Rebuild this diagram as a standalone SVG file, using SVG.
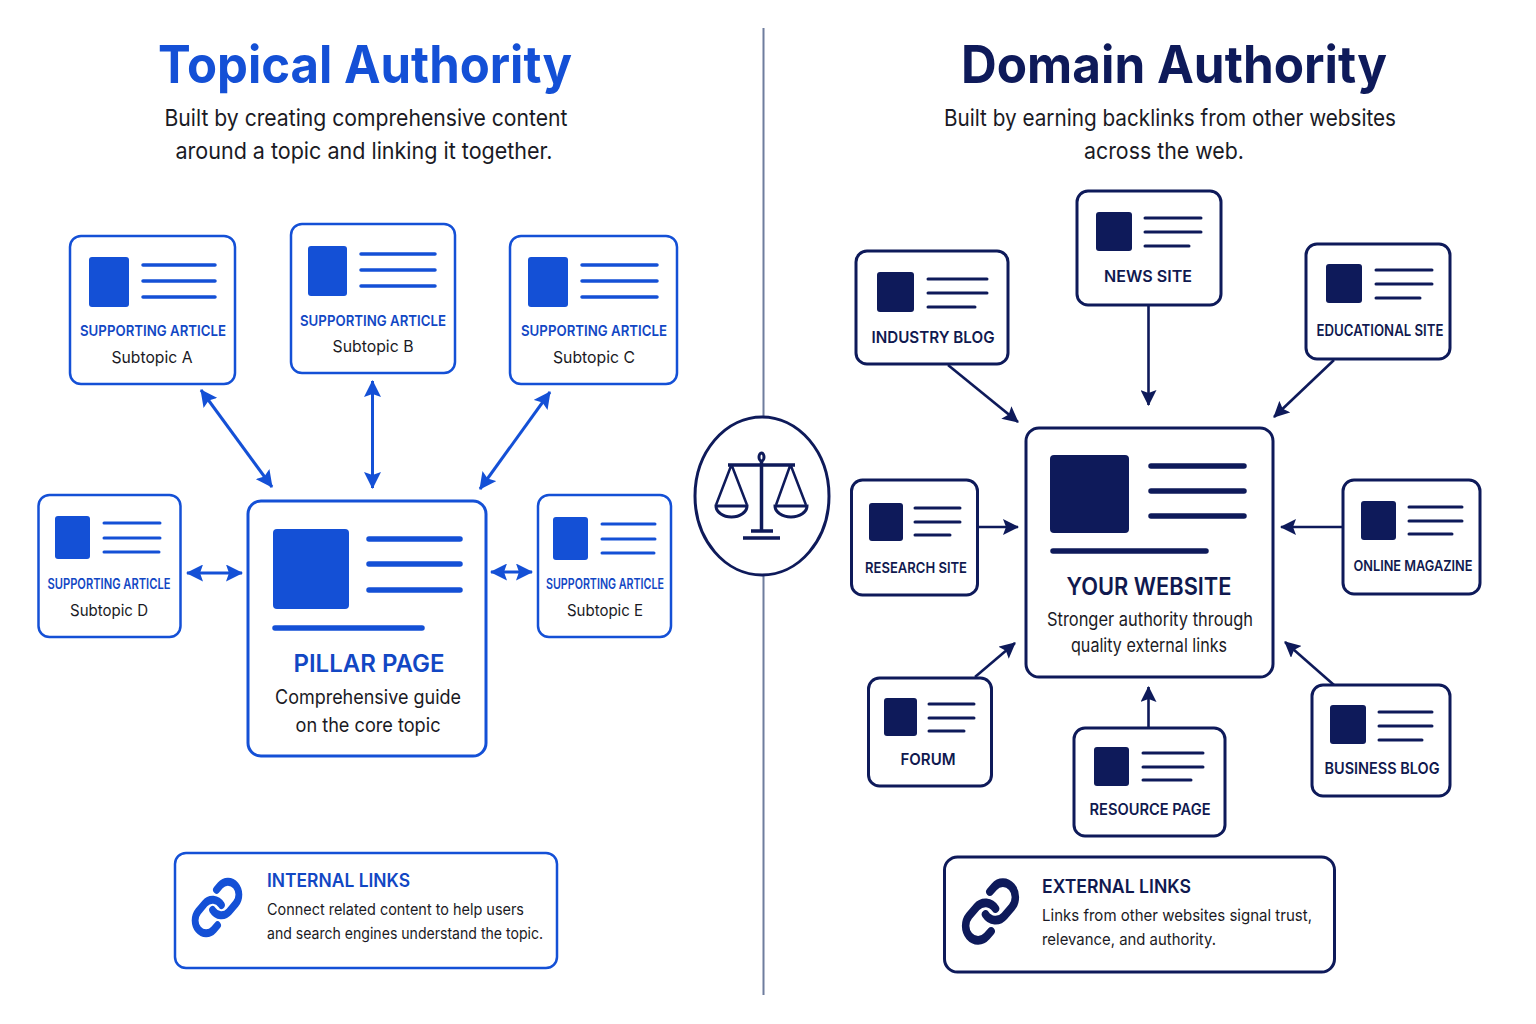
<svg xmlns="http://www.w3.org/2000/svg" width="1536" height="1024" viewBox="0 0 1536 1024">
<style>
text{font-family:Inter,"Noto Sans","Liberation Sans",sans-serif;text-anchor:middle}
.card{fill:#fff;stroke-width:2.5}
.b .card{stroke:#1450d6}.n .card{stroke:#0e1a5a;stroke-width:3}
.b .fill{fill:#1450d6}.n .fill{fill:#0e1a5a}
.b .ln{stroke:#1450d6}.n .ln{stroke:#0e1a5a}
.ln{stroke-width:3.5;stroke-linecap:round;fill:none}
.lab{font-weight:600;font-size:15px}
.b .lab{fill:#1247c4}.n .lab{fill:#10194f}
.sub{font-size:16.5px;fill:#1a1a24}
.t{font-weight:700;font-size:52px}
.desc{font-size:23px;fill:#1a1a24}
.ab{stroke:#1450d6;stroke-width:3;fill:none}
.an{stroke:#0e1a5a;stroke-width:2.6;fill:none}
.ic{fill:none;stroke-linecap:round;stroke-linejoin:round}
</style>
<defs>
<marker id="mb" viewBox="0 0 17 17" refX="16" refY="8.500" markerWidth="17" markerHeight="17" markerUnits="userSpaceOnUse" orient="auto-start-reverse"><path d="M0 0L17 8.500L0 17L3 8.500Z" fill="#1450d6"/></marker>
<marker id="mn" viewBox="0 0 16 16" refX="15" refY="8" markerWidth="16" markerHeight="16" markerUnits="userSpaceOnUse" orient="auto"><path d="M0 0L16 8L0 16L3 8Z" fill="#0e1a5a"/></marker>
<path id="link" d="M10 13a5 5 0 0 0 7.54.54l3-3a5 5 0 0 0-7.07-7.07l-1.72 1.71M14 11a5 5 0 0 0-7.54-.54l-3 3a5 5 0 0 0 7.07 7.07l1.71-1.71"/>
</defs>
<rect width="1536" height="1024" fill="#fff"/>
<line id="divider" x1="763.500" y1="28" x2="763.500" y2="995" stroke="#6f7d9e" stroke-width="2"/>
<g id="title-left"><text class="t" x="365" y="83" fill="#1450d6" textLength="414" lengthAdjust="spacingAndGlyphs">Topical Authority</text>
<text class="desc" x="366" y="126" textLength="403" lengthAdjust="spacingAndGlyphs">Built by creating comprehensive content</text>
<text class="desc" x="364" y="159" textLength="377" lengthAdjust="spacingAndGlyphs">around a topic and linking it together.</text></g>
<g id="title-right"><text class="t" x="1174" y="83" fill="#0e1a5a" textLength="426" lengthAdjust="spacingAndGlyphs">Domain Authority</text>
<text class="desc" x="1170" y="126" textLength="452" lengthAdjust="spacingAndGlyphs">Built by earning backlinks from other websites</text>
<text class="desc" x="1164" y="159" textLength="160" lengthAdjust="spacingAndGlyphs">across the web.</text></g>

<g id="connectors">
<g class="ab">
<line x1="201" y1="390" x2="272" y2="487" marker-start="url(#mb)" marker-end="url(#mb)"/>
<line x1="372.500" y1="381" x2="372.500" y2="488" marker-start="url(#mb)" marker-end="url(#mb)"/>
<line x1="550" y1="392" x2="480" y2="489" marker-start="url(#mb)" marker-end="url(#mb)"/>
<line x1="187" y1="573" x2="242" y2="573" marker-start="url(#mb)" marker-end="url(#mb)"/>
<line x1="491" y1="572" x2="532" y2="572" marker-start="url(#mb)" marker-end="url(#mb)"/>
</g>
<g class="an">
<line x1="948" y1="365" x2="1018" y2="422" marker-end="url(#mn)"/>
<line x1="1148.500" y1="306" x2="1148.500" y2="405" marker-end="url(#mn)"/>
<line x1="1334" y1="360" x2="1274" y2="417" marker-end="url(#mn)"/>
<line x1="978" y1="527" x2="1018" y2="527" marker-end="url(#mn)"/>
<line x1="1343" y1="527" x2="1281" y2="527" marker-end="url(#mn)"/>
<line x1="975" y1="677" x2="1015" y2="643" marker-end="url(#mn)"/>
<line x1="1148.500" y1="727" x2="1148.500" y2="687" marker-end="url(#mn)"/>
<line x1="1334" y1="685" x2="1285" y2="642" marker-end="url(#mn)"/>
</g>
</g>

<g class="b">
<g id="article-a"><rect class="card" x="70" y="236" width="165" height="148" rx="11"/><rect class="fill" x="89" y="257" width="40" height="50" rx="3"/><path class="ln" d="M143 265H215M143 281H215M143 297H215"/><text class="lab" x="153" y="336" textLength="146" lengthAdjust="spacingAndGlyphs">SUPPORTING ARTICLE</text><text class="sub" x="152" y="363" textLength="81" lengthAdjust="spacingAndGlyphs">Subtopic A</text></g>
<g id="article-b"><rect class="card" x="291" y="224" width="164" height="149" rx="11"/><rect class="fill" x="308" y="246" width="39" height="50" rx="3"/><path class="ln" d="M361 254H435M361 270H435M361 286H435"/><text class="lab" x="373" y="326" textLength="146" lengthAdjust="spacingAndGlyphs">SUPPORTING ARTICLE</text><text class="sub" x="373" y="352" textLength="81" lengthAdjust="spacingAndGlyphs">Subtopic B</text></g>
<g id="article-c"><rect class="card" x="510" y="236" width="167" height="148" rx="11"/><rect class="fill" x="528" y="257" width="40" height="50" rx="3"/><path class="ln" d="M582 265H657M582 281H657M582 297H657"/><text class="lab" x="594" y="336" textLength="146" lengthAdjust="spacingAndGlyphs">SUPPORTING ARTICLE</text><text class="sub" x="594" y="363" textLength="82" lengthAdjust="spacingAndGlyphs">Subtopic C</text></g>
<g id="article-d"><rect class="card" x="38.500" y="495" width="142" height="142" rx="11"/><rect class="fill" x="55" y="516" width="35" height="43" rx="3"/><path class="ln" d="M104 523H160M104 538H160M104 552H159" style="stroke-width:3"/><text class="lab" x="109" y="589" style="font-size:14px" textLength="123" lengthAdjust="spacingAndGlyphs">SUPPORTING ARTICLE</text><text class="sub" x="109" y="616" style="font-size:15.500px" textLength="78" lengthAdjust="spacingAndGlyphs">Subtopic D</text></g>
<g id="article-e"><rect class="card" x="538" y="495" width="133" height="142" rx="11"/><rect class="fill" x="553" y="517" width="35" height="43" rx="3"/><path class="ln" d="M602 524H655M602 539H655M602 553H654" style="stroke-width:3"/><text class="lab" x="605" y="589" style="font-size:14px" textLength="118" lengthAdjust="spacingAndGlyphs">SUPPORTING ARTICLE</text><text class="sub" x="605" y="616" style="font-size:15.500px" textLength="76" lengthAdjust="spacingAndGlyphs">Subtopic E</text></g>
<g id="pillar-page"><rect class="card" x="248" y="501" width="238" height="255" rx="13" style="stroke-width:3"/><rect class="fill" x="273" y="529" width="76" height="80" rx="4"/><path class="ln" d="M369 539H460M369 564H460M369 590H460M275 628H422" style="stroke-width:5.500"/><text x="369" y="672" style="font-weight:600;font-size:24px;fill:#1247c4" textLength="151" lengthAdjust="spacingAndGlyphs">PILLAR PAGE</text><text class="sub" x="368" y="704" style="font-size:19.500px" textLength="186" lengthAdjust="spacingAndGlyphs">Comprehensive guide</text><text class="sub" x="368" y="732" style="font-size:19.500px" textLength="145" lengthAdjust="spacingAndGlyphs">on the core topic</text></g>
<g id="internal-links"><rect class="card" x="175" y="853" width="382" height="115" rx="11"/><use href="#link" class="ic" stroke="#1450d6" stroke-width="3.100" transform="translate(217 907.500) scale(2.200 2.600) translate(-12 -12)"/><text x="267" y="887" style="text-anchor:start;font-weight:600;font-size:18.500px;fill:#1247c4" textLength="143" lengthAdjust="spacingAndGlyphs">INTERNAL LINKS</text><text class="sub" x="267" y="915" style="text-anchor:start;font-size:15.500px" textLength="257" lengthAdjust="spacingAndGlyphs">Connect related content to help users</text><text class="sub" x="267" y="939" style="text-anchor:start;font-size:15.500px" textLength="276" lengthAdjust="spacingAndGlyphs">and search engines understand the topic.</text></g>
</g>

<g class="n">
<g id="industry-blog"><rect class="card" x="856" y="251" width="152" height="113" rx="11"/><rect class="fill" x="877" y="272" width="37" height="40" rx="3"/><path class="ln" d="M928 279H987M928 293H987M928 307H975" style="stroke-width:3"/><text class="lab" x="933" y="343" style="font-size:16.500px" textLength="123" lengthAdjust="spacingAndGlyphs">INDUSTRY BLOG</text></g>
<g id="news-site"><rect class="card" x="1077" y="191" width="144" height="114" rx="11"/><rect class="fill" x="1096" y="212" width="36" height="39" rx="3"/><path class="ln" d="M1145 218H1201M1145 232H1201M1145 246H1189" style="stroke-width:3"/><text class="lab" x="1148" y="282" style="font-size:16.500px" textLength="88" lengthAdjust="spacingAndGlyphs">NEWS SITE</text></g>
<g id="educational-site"><rect class="card" x="1306" y="244" width="144" height="115" rx="11"/><rect class="fill" x="1326" y="264" width="36" height="39" rx="3"/><path class="ln" d="M1376 270H1432M1376 284H1432M1376 298H1420" style="stroke-width:3"/><text class="lab" x="1380" y="336" style="font-size:15.500px" textLength="127" lengthAdjust="spacingAndGlyphs">EDUCATIONAL SITE</text></g>
<g id="research-site"><rect class="card" x="851.500" y="480" width="126" height="115" rx="11"/><rect class="fill" x="869" y="503" width="34" height="38" rx="3"/><path class="ln" d="M915 508H960M915 522H960M915 535H950" style="stroke-width:3"/><text class="lab" x="916" y="573" style="font-size:15px" textLength="102" lengthAdjust="spacingAndGlyphs">RESEARCH SITE</text></g>
<g id="online-magazine"><rect class="card" x="1343" y="480" width="137" height="114" rx="11"/><rect class="fill" x="1361" y="501" width="35" height="39" rx="3"/><path class="ln" d="M1409 507H1462M1409 521H1462M1409 534H1452" style="stroke-width:3"/><text class="lab" x="1413" y="571" style="font-size:15px" textLength="119" lengthAdjust="spacingAndGlyphs">ONLINE MAGAZINE</text></g>
<g id="forum"><rect class="card" x="868.500" y="678" width="123" height="108" rx="11"/><rect class="fill" x="884" y="698" width="33" height="38" rx="3"/><path class="ln" d="M929 704H974M929 718H974M929 731H964" style="stroke-width:3"/><text class="lab" x="928" y="765" style="font-size:16px" textLength="55" lengthAdjust="spacingAndGlyphs">FORUM</text></g>
<g id="resource-page"><rect class="card" x="1074" y="728" width="151" height="108" rx="11"/><rect class="fill" x="1094" y="747" width="35" height="39" rx="3"/><path class="ln" d="M1143 753H1203M1143 767H1203M1143 780H1191" style="stroke-width:3"/><text class="lab" x="1150" y="815" style="font-size:15.500px" textLength="121" lengthAdjust="spacingAndGlyphs">RESOURCE PAGE</text></g>
<g id="business-blog"><rect class="card" x="1312" y="685" width="138" height="111" rx="11"/><rect class="fill" x="1330" y="705" width="36" height="39" rx="3"/><path class="ln" d="M1379 712H1432M1379 726H1432M1379 740H1422" style="stroke-width:3"/><text class="lab" x="1382" y="774" style="font-size:16px" textLength="115" lengthAdjust="spacingAndGlyphs">BUSINESS BLOG</text></g>
<g id="your-website"><rect class="card" x="1026" y="428" width="247" height="249" rx="13"/><rect class="fill" x="1050" y="455" width="79" height="78" rx="4"/><path class="ln" d="M1151 466H1244M1151 491H1244M1151 516H1244M1053 551H1206" style="stroke-width:5.500"/><text x="1149" y="595" style="font-weight:600;font-size:24px;fill:#10194f" textLength="165" lengthAdjust="spacingAndGlyphs">YOUR WEBSITE</text><text class="sub" x="1150" y="626" style="font-size:18.500px" textLength="206" lengthAdjust="spacingAndGlyphs">Stronger authority through</text><text class="sub" x="1149" y="652" style="font-size:18.500px" textLength="156" lengthAdjust="spacingAndGlyphs">quality external links</text></g>
<g id="external-links"><rect class="card" x="944.500" y="857" width="390" height="115" rx="13"/><use href="#link" class="ic" stroke="#0e1a5a" stroke-width="3" transform="translate(990.500 911.500) scale(2.500 2.900) translate(-12 -12)"/><text x="1042" y="893" style="text-anchor:start;font-weight:600;font-size:19px;fill:#10194f" textLength="149" lengthAdjust="spacingAndGlyphs">EXTERNAL LINKS</text><text class="sub" x="1042" y="921" style="text-anchor:start" textLength="270" lengthAdjust="spacingAndGlyphs">Links from other websites signal trust,</text><text class="sub" x="1042" y="945" style="text-anchor:start" textLength="174" lengthAdjust="spacingAndGlyphs">relevance, and authority.</text></g>
</g>

<g id="scale">
<ellipse cx="762" cy="496" rx="67" ry="79" fill="#fff" stroke="#0e1a5a" stroke-width="3"/>
<g stroke="#0e1a5a" fill="none" stroke-width="3">
<ellipse cx="761.500" cy="457" rx="2.500" ry="4"/>
<path d="M761.500 461V531M728 465H795" stroke-width="3.500"/>
<path d="M751 531H773M743 538H780" stroke-width="3.500"/>
<path d="M731 466L716 505M732 466L747 505M790 466L776 505M791 466L806 505" stroke-width="2.500"/>
<path d="M716 506H747A15.500 11 0 0 1 716 506ZM775 506H807A16 11 0 0 1 775 506Z"/>
</g></g>
</svg>
